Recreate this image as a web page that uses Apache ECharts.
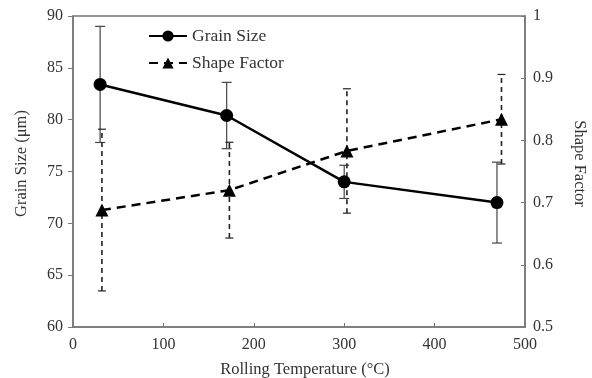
<!DOCTYPE html>
<html>
<head>
<meta charset="utf-8">
<script src="https://cdn.jsdelivr.net/npm/echarts@6/dist/echarts.min.js"></script>
<style>
  html, body { margin: 0; padding: 0; background: #fff; }
  #chart { width: 592px; height: 378px; }
</style>
</head>
<body>
<div id="chart"></div>
<script>
// grain size (left axis)
const grainTemp = [30, 170, 300, 469];
const grainSize = [83.4, 80.4, 74.0, 72.0];
const grainErr = [5.6, 3.2, 1.6, 3.9];

// shape factor (right axis)
const shapeTemp = [32, 173, 303, 474];
const shapeFactor = [0.688, 0.72, 0.783, 0.834];
const shapeErr = [0.13, 0.077, 0.1, 0.072];

const FONT = 'Liberation Serif';
const TXT = '#333';

const chart = echarts.init(document.getElementById('chart'));

// error bar renderer
const makeErrRender = (capW, dashed) => (params, api) => {
  const x = api.value(0);
  const lo = api.coord([x, api.value(1)]);
  const hi = api.coord([x, api.value(2)]);
  const style = {
    stroke: dashed ? '#222' : '#444',
    lineWidth: dashed ? 1.6 : 1.2,
    lineDash: dashed ? [5, 4] : null,
  };
  const capStyle = { stroke: style.stroke, lineWidth: 1.2 };
  return {
    type: 'group',
    children: [
      { type: 'line', shape: { x1: lo[0], y1: lo[1], x2: hi[0], y2: hi[1] }, style },
      { type: 'line', shape: { x1: hi[0] - capW / 2, y1: hi[1], x2: hi[0] + capW / 2, y2: hi[1] }, style: capStyle },
      { type: 'line', shape: { x1: lo[0] - capW / 2, y1: lo[1], x2: lo[0] + capW / 2, y2: lo[1] }, style: capStyle },
    ],
  };
};

const axisLine = { show: true, lineStyle: { color: '#777', width: 1.5 } };
const labelStyle = { fontFamily: FONT, fontSize: 16, color: TXT };
const titleStyle = { fontFamily: FONT, fontSize: 16.5, color: TXT };

chart.setOption({
  animation: false,
  backgroundColor: '#fff',
  textStyle: { fontFamily: FONT },
  grid: {
    left: 73, right: 67, top: 16, bottom: 51,
    outerBoundsMode: 'none',
    containLabel: false,
    show: true, borderColor: '#777', borderWidth: 1.5,
  },
  legend: {
    data: ['Grain Size', 'Shape Factor'],
    orient: 'vertical',
    left: 148,
    top: 27,
    padding: 0,
    itemWidth: 38,
    itemHeight: 14,
    itemGap: 9,
    textStyle: { fontFamily: FONT, fontSize: 17.5, color: TXT },
  },
  xAxis: {
    type: 'value',
    min: 0, max: 500, interval: 100,
    name: 'Rolling Temperature (°C)',
    nameLocation: 'middle',
    nameGap: 34,
    nameTextStyle: { ...titleStyle, padding: [0, 0, 0, 12] },
    axisLine,
    axisTick: { show: true, inside: true, length: 4, lineStyle: { color: '#777' } },
    axisLabel: { ...labelStyle, margin: 10 },
    splitLine: { show: false },
  },
  yAxis: [
    {
      type: 'value',
      min: 60, max: 90, interval: 5,
      name: 'Grain Size (μm)',
      nameLocation: 'middle',
      nameGap: 43,
      nameTextStyle: { ...titleStyle, padding: [0, 0, 0, 16] },
      axisLine,
      axisTick: { show: true, inside: false, length: 5, lineStyle: { color: '#777' } },
      axisLabel: { ...labelStyle, margin: 10 },
      splitLine: { show: false },
    },
    {
      type: 'value',
      position: 'right',
      min: 0.5, max: 1, interval: 0.1,
      name: 'Shape Factor',
      nameLocation: 'middle',
      nameRotate: -90,
      nameGap: 46,
      nameTextStyle: { ...titleStyle, padding: [0, 16, 0, 0] },
      axisLine,
      axisTick: { show: true, inside: true, length: 4, lineStyle: { color: '#777' } },
      axisLabel: {
        ...labelStyle, margin: 8,
        formatter: (v) => (v === 1 ? '1' : v.toFixed(1)),
      },
      splitLine: { show: false },
    },
  ],
  series: [
    {
      name: 'grainErr',
      type: 'custom',
      yAxisIndex: 0,
      z: 1,
      renderItem: makeErrRender(10, false),
      data: grainTemp.map((t, i) => [t, grainSize[i] - grainErr[i], grainSize[i] + grainErr[i]]),
    },
    {
      name: 'shapeErr',
      type: 'custom',
      yAxisIndex: 1,
      z: 1,
      renderItem: makeErrRender(8, true),
      data: shapeTemp.map((t, i) => [t, shapeFactor[i] - shapeErr[i], shapeFactor[i] + shapeErr[i]]),
    },
    {
      name: 'Grain Size',
      type: 'line',
      yAxisIndex: 0,
      z: 3,
      symbol: 'circle',
      symbolSize: 13,
      itemStyle: { color: '#000' },
      lineStyle: { color: '#000', width: 2.5 },
      data: grainTemp.map((t, i) => [t, grainSize[i]]),
    },
    {
      name: 'Shape Factor',
      type: 'line',
      yAxisIndex: 1,
      z: 3,
      symbol: 'triangle',
      symbolSize: 13,
      itemStyle: { color: '#000' },
      lineStyle: { color: '#000', width: 2.5, type: [9, 6] },
      data: shapeTemp.map((t, i) => [t, shapeFactor[i]]),
    },
  ],
});
</script>
</body>
</html>
